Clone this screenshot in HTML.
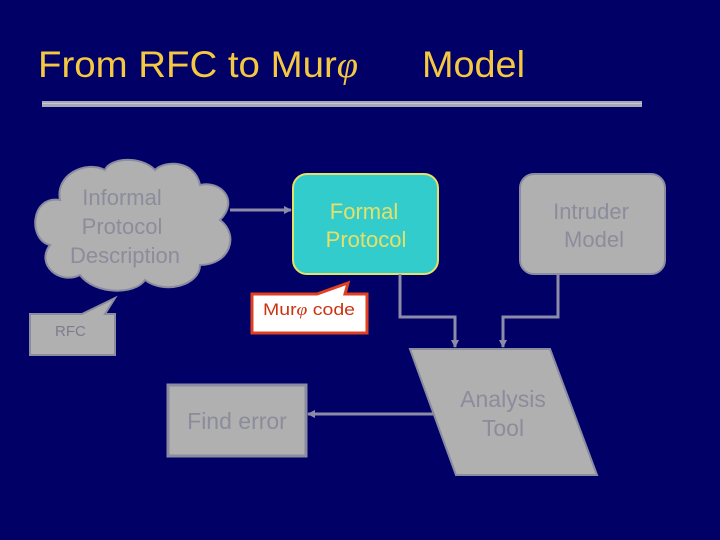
<!DOCTYPE html>
<html><head><style>
body{margin:0;background:#000066;}
svg{display:block}
text{font-family:"Liberation Sans",sans-serif;}
</style></head><body>
<svg width="720" height="540" viewBox="0 0 720 540" xmlns="http://www.w3.org/2000/svg">
<rect width="720" height="540" fill="#000066"/>
<text x="38" y="77" font-size="37" fill="#f5c842" textLength="320" lengthAdjust="spacingAndGlyphs">From RFC to Mur<tspan font-family="Liberation Serif" font-style="italic">φ</tspan></text>
<text x="422" y="77" font-size="37" fill="#f5c842" textLength="103" lengthAdjust="spacingAndGlyphs">Model</text>
<rect x="42" y="101" width="600" height="6" fill="#a8a8b8"/>
<rect x="42" y="103" width="600" height="1" fill="#c8c8d0"/>
<defs><marker id="a" markerWidth="8" markerHeight="8" refX="7" refY="4" orient="auto" markerUnits="userSpaceOnUse"><path d="M0,0 L8,4 L0,8 z" fill="#8c8ca8"/></marker></defs>
<g fill="#b0b0b0" stroke="#8c8ca0" stroke-width="2">
<path d="M60,200 C30,195 28,240 50,245 C35,265 60,285 80,275 C95,295 135,295 145,280 C165,295 200,285 200,265 C230,265 240,235 220,220 C240,200 220,180 200,185 C195,160 165,160 155,170 C140,155 110,158 105,170 C85,160 55,175 60,200 Z"/>
</g>
<text font-size="22" fill="#8c8c9c" text-anchor="middle"><tspan x="122" y="205">Informal</tspan><tspan x="122" y="234">Protocol</tspan><tspan x="125" y="263">Description</tspan></text>
<line x1="230" y1="210" x2="291" y2="210" stroke="#8c8ca8" stroke-width="3" marker-end="url(#a)"/>
<rect x="293" y="174" width="145" height="100" rx="14" fill="#33cccc" stroke="#e6e066" stroke-width="2"/>
<text font-size="22" fill="#e6e066" text-anchor="middle"><tspan x="364" y="219">Formal</tspan><tspan x="366" y="247">Protocol</tspan></text>
<rect x="520" y="174" width="145" height="100" rx="14" fill="#b0b0b0" stroke="#8c8ca0" stroke-width="2"/>
<text font-size="22" fill="#8c8c9c" text-anchor="middle"><tspan x="591" y="219">Intruder</tspan><tspan x="594" y="247">Model</tspan></text>
<path d="M252,294 L317,294 L348,283 L345,294 L367,294 L367,333 L252,333 Z" fill="#fff" stroke="#e04020" stroke-width="3"/>
<text x="263" y="315" font-size="17" fill="#cc3311" textLength="92" lengthAdjust="spacingAndGlyphs">Mur<tspan font-family="Liberation Serif" font-style="italic">φ</tspan> code</text>
<path d="M30,314 L82,314 L115,298 L105,314 L115,314 L115,355 L30,355 Z" fill="#b0b0b0" stroke="#8c8ca0" stroke-width="2"/>
<text x="55" y="336" font-size="15" fill="#7c7c8c">RFC</text>
<polyline points="400,274 400,317 455,317 455,347" fill="none" stroke="#8c8ca8" stroke-width="3" marker-end="url(#a)"/>
<polyline points="558,274 558,317 503,317 503,347" fill="none" stroke="#8c8ca8" stroke-width="3" marker-end="url(#a)"/>
<polygon points="410,349 550,349 597,475 456,475" fill="#b0b0b0" stroke="#8c8ca0" stroke-width="2"/>
<text font-size="23" fill="#8c8c9c" text-anchor="middle"><tspan x="503" y="407">Analysis</tspan><tspan x="503" y="436">Tool</tspan></text>
<line x1="433" y1="414" x2="308" y2="414" stroke="#8c8ca8" stroke-width="3" marker-end="url(#a)"/>
<rect x="168" y="385" width="138" height="71" fill="#b0b0b0" stroke="#8c8ca0" stroke-width="3"/>
<text x="237" y="429" font-size="23" fill="#8c8c9c" text-anchor="middle">Find error</text>
</svg>
</body></html>
